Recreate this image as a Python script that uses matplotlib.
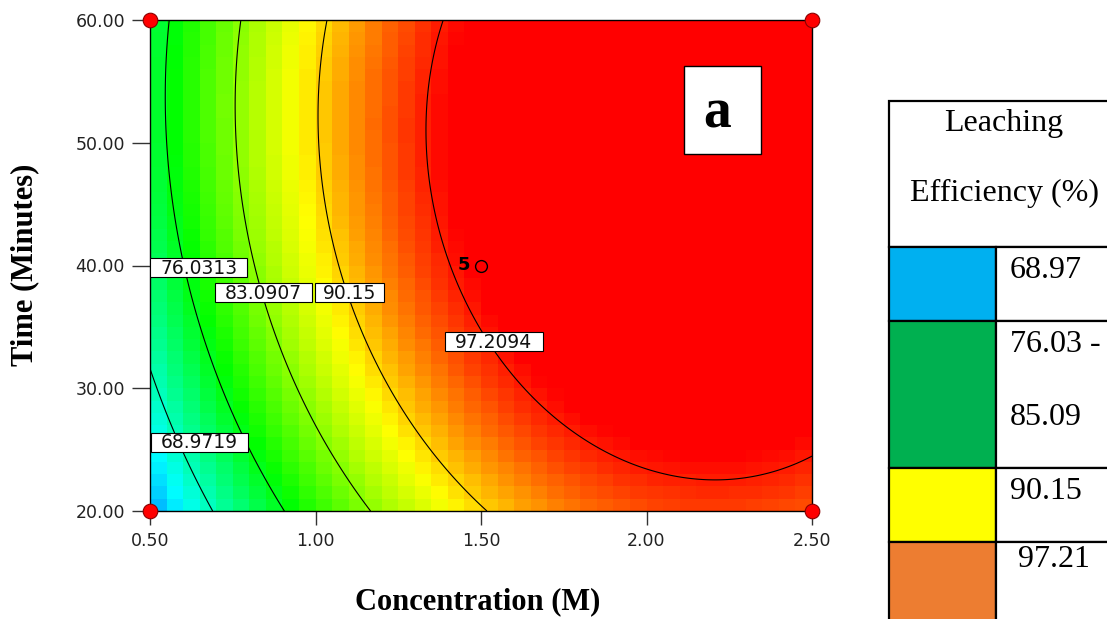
import numpy as np
import matplotlib
matplotlib.use("Agg")
import matplotlib.pyplot as plt
from matplotlib.colors import LinearSegmentedColormap
from matplotlib.patches import Rectangle

# quadratic model in coded units: A = conc - 1.5, B = (time - 40) / 20
# terms: intercept, A, B, A^2, B^2, AB
coef = [98.6979, 14.9484, 4.5175, -11.4895, -4.3213, -1.5004]

conc_range = [0.50, 2.50]
time_range = [20.0, 60.0]
conc_ticks = [0.50, 1.00, 1.50, 2.00, 2.50]
time_ticks = [20.0, 30.0, 40.0, 50.0, 60.0]

levels = [68.9719, 76.0313, 83.0907, 90.15, 97.2094]
# where each contour value is written (conc, time)
label_pos = [(0.649, 25.6), (0.647, 39.8), (0.842, 37.8), (1.102, 37.8), (1.539, 33.8)]

design_conc = [0.50, 0.50, 2.50, 2.50]
design_time = [20.0, 60.0, 20.0, 60.0]
center_run = (1.50, 40.0)

legend_labels = ["68.97", "76.03 -\n85.09", "90.15", "97.21"]
legend_colors = ["#00B0F0", "#00B050", "#FFFF00", "#ED7D31"]


def response(c, t):
    a = c - 1.5
    b = (t - 40.0) / 20.0
    return (coef[0] + coef[1] * a + coef[2] * b + coef[3] * a ** 2
            + coef[4] * b ** 2 + coef[5] * a * b)


W, H = 1107, 619
fig = plt.figure(figsize=(W / 100, H / 100), dpi=100)
ax = fig.add_axes([150 / W, 1 - 511 / H, 662 / W, 491 / H])
px_x = (conc_range[1] - conc_range[0]) / 662   # data units per pixel
px_y = (time_range[1] - time_range[0]) / 491

# blue -> cyan -> green -> yellow -> red, stops in response units
vmin, vmax = 55.0, 98.3
stops = [55.0, 66.0, 77.0, 88.5, 98.3]
cmap = LinearSegmentedColormap.from_list(
    "rsm", [((s - vmin) / (vmax - vmin), col) for s, col in
            zip(stops, ["#0000ff", "#00ffff", "#00ff00", "#ffff00", "#ff0000"])])

# coarse 40x40 colour cells
nx, ny = 40, 40
xe = np.linspace(conc_range[0], conc_range[1], nx + 1)
ye = np.linspace(time_range[0], time_range[1], ny + 1)
xc = (xe[:-1] + xe[1:]) / 2
yc = (ye[:-1] + ye[1:]) / 2
Zc = response(*np.meshgrid(xc, yc))
ax.pcolormesh(xe, ye, Zc, cmap=cmap, vmin=vmin, vmax=vmax, shading='flat')

# smooth contour lines
xf = np.linspace(conc_range[0], conc_range[1], 300)
yf = np.linspace(time_range[0], time_range[1], 300)
XF, YF = np.meshgrid(xf, yf)
ax.contour(XF, YF, response(XF, YF), levels=levels, colors='black', linewidths=0.8)

for lv, (lx, ly) in zip(levels, label_pos):
    txt = f"{lv:g}"
    bw = (len(txt) * 13.9) * px_x
    bh = 19 * px_y
    ax.add_patch(Rectangle((lx - bw / 2, ly - bh / 2), bw, bh, fc='white', ec='black',
                           lw=0.8, zorder=5))
    ax.text(lx, ly - 0.6 * px_y, txt, fontsize=13.5, family='DejaVu Sans', color='#111111',
            ha='center', va='center', zorder=6)

ax.plot(design_conc, design_time, 'o', ms=10.5, mfc='#ff0000', mec='#8b0000', mew=0.8,
        clip_on=False, zorder=10)
ax.plot(*center_run, 'o', ms=8.5, mfc='none', mec='black', mew=1.0, zorder=6)
ax.annotate("5", center_run, xytext=(-12.5, 0), textcoords='offset points',
            ha='center', va='center', fontsize=13, fontweight='bold', zorder=6)

# panel tag
ax.add_patch(Rectangle(((684 - 150) / 662, (511 - 154) / 491), 77 / 662, 88 / 491,
                       transform=ax.transAxes, fc='white', ec='black', lw=1.0, zorder=7))
ax.text((717.5 - 150) / 662, (511 - 128) / 491, "a", transform=ax.transAxes,
        family='Liberation Serif', fontsize=40, fontweight='bold',
        ha='center', va='baseline', zorder=8)

ax.set_xlim(conc_range)
ax.set_ylim(time_range)
ax.set_xticks(conc_ticks)
ax.set_yticks(time_ticks)
ax.set_xticklabels([f"{v:.2f}" for v in conc_ticks])
ax.set_yticklabels([f"{v:.2f}" for v in time_ticks])
ax.tick_params(axis='both', direction='out', colors='#333333', labelcolor='#222222',
               labelsize=12.5, width=1.0)
ax.tick_params(axis='x', length=10, pad=5)
ax.tick_params(axis='y', length=13, pad=5)
for s in ax.spines.values():
    s.set_linewidth(1.0)
    s.set_color('black')

fig.text(478 / W, 1 - 602 / H, "Concentration (M)", family='Liberation Serif',
         fontsize=22, fontweight='bold', ha='center', va='center')
fig.text(25 / W, 1 - 265 / H, "Time (Minutes)", family='Liberation Serif',
         fontsize=22, fontweight='bold', ha='center', va='center', rotation=90)

# legend table drawn in pixel units on an overlay
lg = fig.add_axes([0, 0, 1, 1], zorder=20)
lg.set_xlim(0, W)
lg.set_ylim(H, 0)
lg.axis('off')
x0, xmid, x1 = 889, 996, W + 5
rows = [101, 247, 321, 468, 542, H + 5]
lw = 1.6
tfont = dict(family='Liberation Serif', fontsize=23)
lg.add_patch(Rectangle((x0, rows[0]), x1 - x0, rows[1] - rows[0], fc='white', ec='black', lw=lw))
for i, (lab, col) in enumerate(zip(legend_labels, legend_colors)):
    top, bot = rows[i + 1], rows[i + 2]
    lg.add_patch(Rectangle((x0, top), xmid - x0, bot - top, fc=col, ec='black', lw=lw))
    lg.add_patch(Rectangle((xmid, top), x1 - xmid, bot - top, fc='white', ec='black', lw=lw))
    lx = xmid + (22 if i == 3 else 14)
    base = top + (25 if i == 3 else 31)
    for k, line in enumerate(lab.split("\n")):
        lg.text(lx, base + 73 * k, line, ha='left', va='baseline', **tfont)
lg.text(1004, 131, "Leaching", ha='center', va='baseline', **tfont)
lg.text(1004, 201, "Efficiency (%)", ha='center', va='baseline', **tfont)

fig.savefig("out.png", dpi=100)
